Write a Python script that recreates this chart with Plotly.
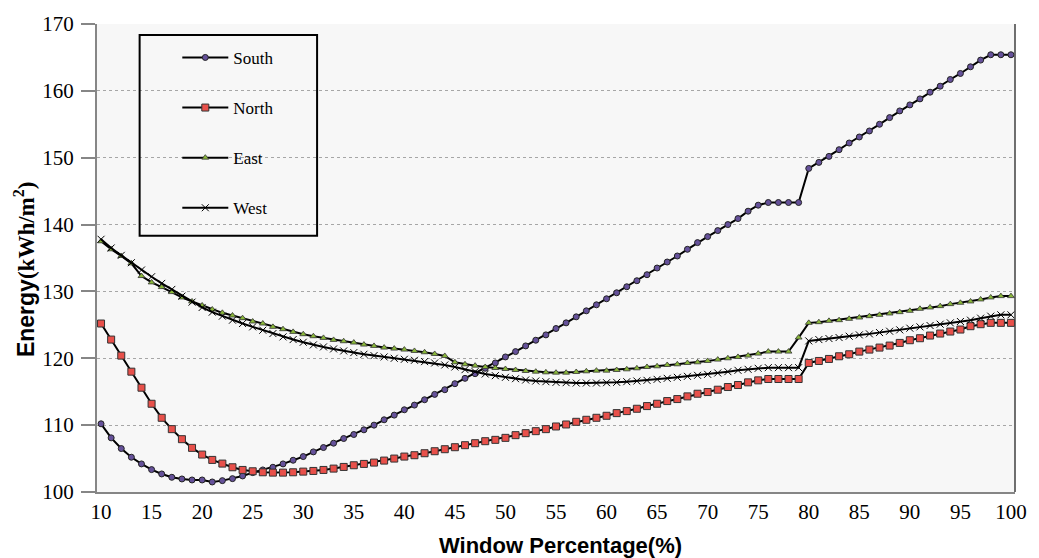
import plotly.graph_objects as go

window_pct = list(range(10, 101))

south = [110.2, 108.1, 106.5, 105.2, 104.2, 103.35, 102.7, 102.2, 101.95, 101.8,
         101.8, 101.5, 101.7, 102.0, 102.4, 102.9, 103.3, 103.7, 104.2, 104.75,
         105.3, 106.0, 106.65, 107.3, 108.0, 108.6, 109.3, 110.0, 110.8, 111.5,
         112.3, 113.0, 113.8, 114.6, 115.3, 116.2, 117.0, 117.7, 118.5, 119.3,
         120.2, 121.0, 121.85, 122.7, 123.5, 124.45, 125.3, 126.2, 127.1, 128.0,
         128.9, 129.8, 130.7, 131.6, 132.5, 133.5, 134.4, 135.3, 136.3, 137.3,
         138.2, 139.1, 140.0, 140.9, 142.0, 142.9, 143.3, 143.3, 143.3, 143.3,
         148.4, 149.3, 150.2, 151.2, 152.2, 153.1, 154.0, 155.0, 156.0, 157.0,
         157.9, 158.8, 159.8, 160.7, 161.7, 162.6, 163.6, 164.6, 165.4, 165.4,
         165.4]

north = [125.2, 122.8, 120.4, 118.0, 115.6, 113.2, 111.1, 109.4, 107.9, 106.6,
         105.6, 104.8, 104.25, 103.7, 103.3, 103.1, 102.95, 102.9, 102.9, 102.95,
         103.05, 103.15, 103.3, 103.5, 103.75, 104.0, 104.2, 104.4, 104.7, 105.0,
         105.3, 105.5, 105.8, 106.1, 106.4, 106.7, 107.0, 107.3, 107.6, 107.8,
         108.1, 108.5, 108.8, 109.1, 109.4, 109.8, 110.1, 110.5, 110.8, 111.1,
         111.4, 111.8, 112.1, 112.45, 112.85, 113.2, 113.6, 113.9, 114.3, 114.7,
         114.95, 115.3, 115.7, 116.0, 116.4, 116.7, 116.9, 116.9, 116.9, 116.9,
         119.3, 119.6, 119.9, 120.3, 120.6, 121.0, 121.3, 121.6, 121.9, 122.3,
         122.7, 123.0, 123.4, 123.7, 124.0, 124.3, 124.8, 125.1, 125.3, 125.3,
         125.3]

east = [137.5, 136.3, 135.3, 134.2, 132.3, 131.35, 130.65, 129.9, 129.1, 128.5,
        127.9, 127.3, 126.8, 126.4, 126.0, 125.5, 125.2, 124.7, 124.35, 123.95,
        123.6, 123.3, 123.05, 122.75, 122.55, 122.35, 122.05, 121.85, 121.6, 121.45,
        121.3, 121.1, 120.9, 120.65, 120.35, 119.4, 119.1, 118.9, 118.7, 118.55,
        118.4, 118.25, 118.1, 118.0, 117.9, 117.85, 117.85, 117.95, 118.05, 118.15,
        118.15, 118.25, 118.35, 118.5, 118.7, 118.8, 119.0, 119.1, 119.3, 119.4,
        119.6, 119.8, 120.0, 120.2, 120.4, 120.7, 121.0, 121.0, 121.0, 123.1,
        125.3, 125.4, 125.6, 125.7, 125.9, 126.1, 126.3, 126.5, 126.7, 126.9,
        127.1, 127.4, 127.6, 127.8, 128.1, 128.3, 128.5, 128.8, 129.1, 129.3,
        129.3]

west = [137.8, 136.5, 135.4, 134.3, 133.2, 132.2, 131.2, 130.3, 129.3, 128.4,
        127.6, 126.9, 126.3, 125.7, 125.2, 124.7, 124.2, 123.7, 123.2, 122.8,
        122.4, 122.0, 121.7, 121.4, 121.1, 120.85, 120.6, 120.4, 120.2, 120.0,
        119.85, 119.7, 119.5, 119.3, 119.0, 118.7, 118.3, 118.0, 117.65, 117.4,
        117.15, 116.95, 116.75, 116.6, 116.5, 116.4, 116.35, 116.3, 116.3, 116.3,
        116.35, 116.4, 116.5, 116.6, 116.7, 116.85, 117.0, 117.15, 117.3, 117.45,
        117.6, 117.8, 118.0, 118.2, 118.35, 118.5, 118.6, 118.6, 118.6, 118.6,
        122.6, 122.8, 122.95, 123.1, 123.3, 123.5, 123.65, 123.85, 124.05, 124.25,
        124.5, 124.7, 124.9, 125.1, 125.3, 125.5, 125.7, 126.0, 126.3, 126.5,
        126.5]

x_ticks = list(range(10, 101, 5))
y_ticks = list(range(100, 171, 10))

SERIF = "Liberation Serif, Times New Roman, serif"
SANS = "Liberation Sans, Arial, sans-serif"

series = [
    ("South", south, dict(symbol="circle", size=6, color="#65519a", line=dict(color="#222222", width=1))),
    ("North", north, dict(symbol="square", size=7, color="#e8504a", line=dict(color="#333333", width=1))),
    ("East", east, dict(symbol="triangle-up", size=6, color="#8ab83a", line=dict(color="#333333", width=0.8))),
    ("West", west, dict(symbol="x-thin", size=7, color="#000000", line=dict(color="#000000", width=1))),
]

fig = go.Figure()
for name, vals, mk in series:
    fig.add_trace(go.Scatter(
        x=window_pct, y=vals, name=name, mode="lines+markers",
        line=dict(color="#000000", width=2), marker=mk, legendgroup=name,
    ))

W, H = 1039, 558
L, R, T, B = 97, 16, 21, 66
pw, ph = W - L - R, H - T - B

def px2x(px):
    return (px - L) / pw

def py2y(py):
    return (H - B - py) / ph

fig.update_layout(
    width=W, height=H,
    margin=dict(l=L, r=R, t=T, b=B, pad=0),
    paper_bgcolor="white",
    plot_bgcolor="#f7f7f7",
    font=dict(family=SERIF, color="black"),
    showlegend=True,
    legend=dict(
        x=px2x(178), y=py2y(37), xanchor="left", yanchor="top",
        bgcolor="rgba(0,0,0,0)", borderwidth=0,
        font=dict(family=SERIF, size=17, color="black"),
        tracegroupgap=25, itemsizing="trace", itemwidth=46,
    ),
    xaxis=dict(
        range=[9.6, 100.4], tickvals=x_ticks, ticktext=[str(v) for v in x_ticks],
        showgrid=False, zeroline=False, showline=True, linecolor="#868686", linewidth=2,
        ticks="", ticklabelstandoff=0,
        tickfont=dict(family=SERIF, size=21, color="black"),
    ),
    yaxis=dict(
        range=[100, 170], tickvals=y_ticks, ticktext=[str(v) for v in y_ticks],
        showgrid=True, gridcolor="#a6a6a6", gridwidth=1, griddash="3px,3px",
        zeroline=False, showline=True, linecolor="#868686", linewidth=2,
        ticks="outside", ticklen=14, tickcolor="#868686", tickwidth=1.5,
        ticklabelstandoff=3,
        tickfont=dict(family=SERIF, size=21, color="black"),
    ),
    shapes=[
        dict(type="rect", xref="paper", yref="paper",
             x0=px2x(140), x1=px2x(319), y0=py2y(234), y1=py2y(32),
             line=dict(color="black", width=2), fillcolor="rgba(0,0,0,0)"),
        dict(type="line", xref="paper", yref="paper", x0=1, x1=1, y0=0, y1=1,
             line=dict(color="#404040", width=1.5)),
    ],
    annotations=[
        dict(text="<b>Window Percentage(%)</b>", xref="paper", yref="paper",
             x=px2x(565), y=py2y(546), xanchor="center", yanchor="middle", showarrow=False,
             font=dict(family=SANS, size=22, color="black")),
        dict(text="<b>Energy</b><span style='font-family:Liberation Serif'><b>(kWh/m<sup>2</sup>)</b></span>",
             xref="paper", yref="paper", x=px2x(24), y=py2y(268),
             xanchor="center", yanchor="middle", textangle=-90, showarrow=False,
             font=dict(family=SANS, size=23, color="black")),
    ],
)

fig.write_html("out.html")
